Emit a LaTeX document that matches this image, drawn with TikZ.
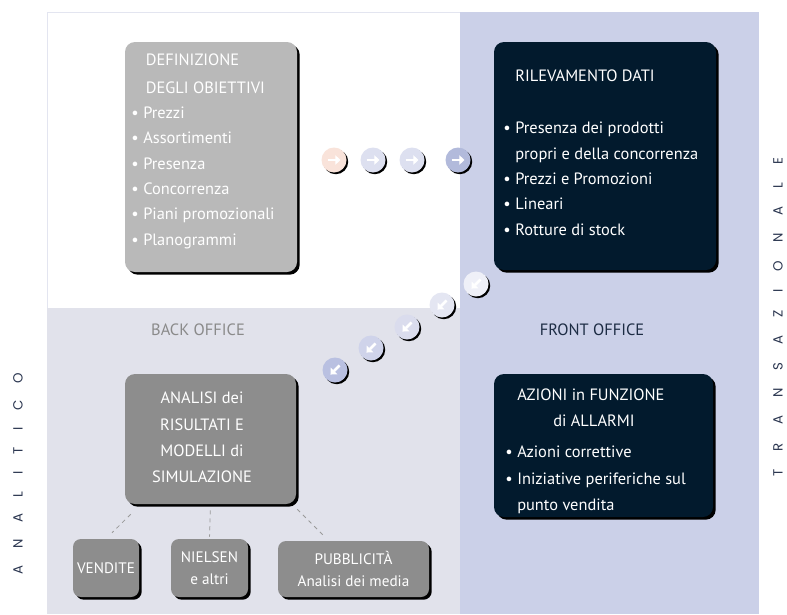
\documentclass[tikz,border=0pt]{standalone}
\usepackage{fontspec}
\setmainfont{PT Sans}
\newfontfamily\geofont{Poppins}
\usetikzlibrary{arrows.meta,positioning,calc,shadows}

\definecolor{backpane}{HTML}{E1E2EB}
\definecolor{frontpane}{HTML}{CBD0E8}
\definecolor{paneline}{HTML}{E3E5F0}
\definecolor{lightbox}{HTML}{B9B9B9}
\definecolor{midbox}{HTML}{8D8D8D}
\definecolor{darkbox}{HTML}{021A2D}
\definecolor{backlabel}{HTML}{8A8A8A}
\definecolor{frontlabel}{HTML}{1D2C44}
\definecolor{sidelabel}{HTML}{2B3650}
\definecolor{dashline}{HTML}{9A9A9A}
\definecolor{btnpink}{HTML}{F9E3DA}
\definecolor{btnpale}{HTML}{DDE0F0}
\definecolor{btnblue}{HTML}{B2BADB}
\definecolor{btndiaga}{HTML}{EFF0F8}
\definecolor{btndiagb}{HTML}{E4E6F2}
\definecolor{btndiagc}{HTML}{DADCED}
\definecolor{btndiagd}{HTML}{CFD3EA}
\definecolor{btndiage}{HTML}{B9C0E1}

\newcommand{\itm}[1]{\makebox[9pt][l]{\textbullet}#1}
\newcommand{\hd}[1]{\hspace*{9pt}#1}
\newcommand{\lgap}{\hspace{12.5pt}}
\newcommand{\rgap}{\hspace{13.5pt}}

\begin{document}
\begin{tikzpicture}[
    x=0.75pt, y=-0.75pt,
    >=Latex,
    blackshadow/.style={drop shadow={shadow xshift=2pt, shadow yshift=-2pt, opacity=1, fill=black}},
    box/.style={
        blackshadow,
        rounded corners=7.5pt,
        inner sep=0pt
    },
    subbox/.style={
        box, fill=midbox, rounded corners=6pt,
        minimum height=43.5pt, text=white, align=center,
        font=\fontsize{11.4}{16.5}\selectfont
    },
    boxtext/.style={
        anchor=north west, inner sep=0pt, text=white, align=left,
        font=\fontsize{12.3}{19}\selectfont
    },
    btn/.style={
        circle, minimum size=18.75pt, inner sep=0pt, fill=#1,
        drop shadow={shadow xshift=1.3pt, shadow yshift=-1.3pt, opacity=1, fill=black}
    },
    toright/.style={path picture={
        \draw[white, line width=2pt, -{Triangle[length=3.8pt,width=7pt]}]
            ([xshift=-4.8pt]path picture bounding box.center) -- ([xshift=4.8pt]path picture bounding box.center);}},
    todownleft/.style={path picture={
        \draw[white, line width=2pt, -{Triangle[length=3.8pt,width=7pt]}]
            ([shift={(3.4pt,3.4pt)}]path picture bounding box.center) -- ([shift={(-3.4pt,-3.4pt)}]path picture bounding box.center);}},
    link/.style={draw=dashline, dashed, line width=0.6pt},
    office/.style={font=\fontsize{12.3}{14}\selectfont},
    side/.style={rotate=90, text=sidelabel, font=\geofont\fontsize{10}{12}\selectfont}
]
\useasboundingbox (0,0) rectangle (787,614);

% Panels
\draw[paneline, fill=white] (47,12) rectangle (460,308);
\fill[backpane] (47,308) rectangle (460,614);
\fill[frontpane] (460,12) rectangle (759,614);

% Side words
\node[side] (analitico) at (18,474) {A\lgap N\lgap A\lgap L\lgap I\lgap T\lgap I\lgap C\lgap O};
\node[side] (transaz) at (778,317) {T\rgap R\rgap A\rgap N\rgap S\rgap A\rgap Z\rgap I\rgap O\rgap N\rgap A\rgap L\rgap E};

% Area labels
\node[office, text=backlabel] (backoff) at (198,330) {BACK OFFICE};
\node[office, text=frontlabel] (frontoff) at (592,330) {FRONT OFFICE};

% Boxes
\node[box, fill=lightbox, minimum width=129pt, minimum height=172.5pt] (obiettivi) at (211,157) {};
\node[box, fill=darkbox, minimum width=166.5pt, minimum height=171pt] (rilevamento) at (605,156) {};
\node[box, fill=midbox, minimum width=128.25pt, minimum height=97.5pt] (analisi) at (210.5,439) {};
\node[box, fill=darkbox, minimum width=164.25pt, minimum height=107.25pt] (azioni) at (603.5,445.5) {};

\node[boxtext] (obiettivitxt) at (131,54) {\hspace*{11pt}DEFINIZIONE\\[1.5pt]
    \hspace*{11pt}DEGLI OBIETTIVI\\
    \itm{Prezzi}\\
    \itm{Assortimenti}\\
    \itm{Presenza}\\
    \itm{Concorrenza}\\
    \itm{Piani promozionali}\\
    \itm{Planogrammi}};
\node[boxtext] (rilevamentotxt) at (503,70) {\hd{RILEVAMENTO DATI}\\[20pt]
    \itm{Presenza dei prodotti}\\
    \hd{propri e della concorrenza}\\
    \itm{Prezzi e Promozioni}\\
    \itm{Lineari}\\
    \itm{Rotture di stock}};
\node[boxtext, anchor=north, align=center, font=\fontsize{12.3}{19.7}\selectfont] (analisitxt) at (202,392)
    {ANALISI dei\\ RISULTATI E\\ MODELLI di\\ SIMULAZIONE};
\node[boxtext] (azionitxt) at (505,389) {\hd{AZIONI in FUNZIONE}\\
    \hspace*{36pt}di ALLARMI\\[4.5pt]
    \itm{Azioni correttive}\\[1.5pt]
    \itm{Iniziative periferiche sul}\\
    \hd{punto vendita}};

% Sources
\node[subbox, minimum width=49.5pt] (vendite) at (106,568) {VENDITE};
\node[subbox, minimum width=57.75pt] (nielsen) at (209.5,568) {NIELSEN\\ e altri};
\node[subbox, minimum width=113.25pt, minimum height=42pt] (pubblicita) at (353.5,569) {PUBBLICITÀ\\ Analisi dei media};

\draw[link] ([shift={(4.5pt,-7.5pt)}]analisi.south west) -- ([shift={(4.5pt,4.5pt)}]vendite.north);
\draw[link, shorten <=4.5pt, shorten >=1.5pt] (analisi.south) -- (nielsen.north);
\draw[link] ([shift={(0.75pt,-3.75pt)}]analisi.south east) -- ([shift={(33.75pt,4.5pt)}]pubblicita.north west);

% Arrow buttons, top row
\node[btn=btnpink, toright] (r1) at (334,160) {};
\node[btn=btnpale, toright] (r2) at (373,160) {};
\node[btn=btnpale, toright] (r3) at (412,160) {};
\node[btn=btnblue, toright] (r4) at (458,160) {};

% Arrow buttons, diagonal
\node[btn=btndiaga, todownleft] (d1) at (476,284) {};
\node[btn=btndiagb, todownleft] (d2) at (442,305) {};
\node[btn=btndiagc, todownleft] (d3) at (407,327) {};
\node[btn=btndiagd, todownleft] (d4) at (371,348) {};
\node[btn=btndiage, todownleft] (d5) at (335,370) {};

\end{tikzpicture}
\end{document}
